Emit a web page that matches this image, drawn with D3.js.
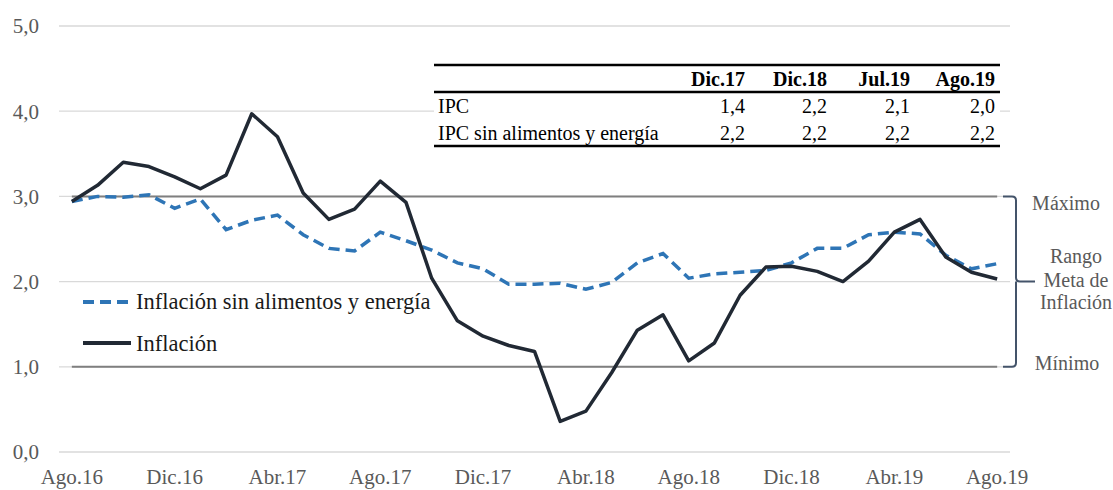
<!DOCTYPE html>
<html lang="es">
<head>
<meta charset="UTF-8">
<title>Inflación</title>
<style>
    body, html { margin: 0; padding: 0; background: #fff; }
    svg { display: block; font-family: "Liberation Serif", "DejaVu Serif", serif; }
</style>
</head>
<body>
<svg id="svg" width="1113" height="490"></svg>
<script src="https://d3js.org/d3.v7.min.js"></script>
<script>
    // months Ago.16 .. Ago.19
    const months = [
        'Ago.16', 'Sep.16', 'Oct.16', 'Nov.16', 'Dic.16', 'Ene.17', 'Feb.17', 'Mar.17', 'Abr.17',
        'May.17', 'Jun.17', 'Jul.17', 'Ago.17', 'Sep.17', 'Oct.17', 'Nov.17', 'Dic.17', 'Ene.18',
        'Feb.18', 'Mar.18', 'Abr.18', 'May.18', 'Jun.18', 'Jul.18', 'Ago.18', 'Sep.18', 'Oct.18',
        'Nov.18', 'Dic.18', 'Ene.19', 'Feb.19', 'Mar.19', 'Abr.19', 'May.19', 'Jun.19', 'Jul.19', 'Ago.19'
    ];
    const tickMonths = ['Ago.16', 'Dic.16', 'Abr.17', 'Ago.17', 'Dic.17', 'Abr.18', 'Ago.18', 'Dic.18', 'Abr.19', 'Ago.19'];

    const inflacion = [
        2.94, 3.13, 3.40, 3.35, 3.23, 3.09, 3.25, 3.97, 3.70,
        3.04, 2.73, 2.85, 3.18, 2.93, 2.04, 1.54, 1.36, 1.25,
        1.18, 0.36, 0.48, 0.93, 1.43, 1.61, 1.07, 1.28, 1.84,
        2.17, 2.18, 2.12, 2.00, 2.24, 2.58, 2.73, 2.29, 2.11, 2.03
    ];
    const subyacente = [
        2.94, 3.00, 2.99, 3.02, 2.86, 2.97, 2.61, 2.72, 2.78,
        2.55, 2.39, 2.36, 2.58, 2.48, 2.37, 2.22, 2.15, 1.97,
        1.97, 1.98, 1.91, 1.99, 2.22, 2.33, 2.04, 2.09, 2.11,
        2.13, 2.22, 2.39, 2.39, 2.55, 2.58, 2.56, 2.31, 2.15, 2.21
    ];

    const yTicks = [0, 1, 2, 3, 4, 5];
    const rangoMeta = [1, 3];

    // small table
    const tableCols = ['Dic.17', 'Dic.18', 'Jul.19', 'Ago.19'];
    const tableRows = ['IPC', 'IPC sin alimentos y energía'];
    const ipcValues = ['1,4', '2,2', '2,1', '2,0'];
    const ipcCoreValues = ['2,2', '2,2', '2,2', '2,2'];

    const svg = d3.select('#svg');
    const left = 59, right = 1010;

    const x = d3.scalePoint().domain(months).range([left, right]).padding(0.5);
    const y = d3.scaleLinear().domain([0, 5]).range([452, 26]);

    const fmt = d => d.toFixed(1).replace('.', ',');

    // gridlines
    svg.append('g')
        .selectAll('line')
        .data(yTicks)
        .join('line')
        .attr('x1', left).attr('x2', right)
        .attr('y1', d => y(d)).attr('y2', d => y(d))
        .attr('stroke', '#d9d9d9')
        .attr('stroke-width', 1.3);

    // y labels
    svg.append('g')
        .selectAll('text')
        .data(yTicks)
        .join('text')
        .attr('x', 39)
        .attr('y', d => y(d))
        .attr('dy', '0.35em')
        .attr('text-anchor', 'end')
        .attr('fill', '#595959')
        .style('font-size', '21px')
        .text(fmt);

    // x labels
    svg.append('g')
        .selectAll('text')
        .data(tickMonths)
        .join('text')
        .attr('x', d => x(d))
        .attr('y', 484)
        .attr('text-anchor', 'middle')
        .attr('fill', '#595959')
        .style('font-size', '21px')
        .text(d => d);

    // target range lines (max / min)
    svg.append('g')
        .selectAll('line')
        .data(rangoMeta)
        .join('line')
        .attr('x1', x(months[0])).attr('x2', x(months[months.length - 1]))
        .attr('y1', d => y(d)).attr('y2', d => y(d))
        .attr('stroke', '#7f7f7f')
        .attr('stroke-width', 2);

    // table background + content
    const tbl = svg.append('g');
    const tLeft = 434, tRight = 1000;
    const colRight = [745, 827, 910, 995];
    tbl.append('rect')
        .attr('x', tLeft).attr('y', 64)
        .attr('width', tRight - tLeft).attr('height', 83)
        .attr('fill', '#fff');
    [65, 92, 146].forEach(ly => {
        tbl.append('line')
            .attr('x1', tLeft).attr('x2', tRight)
            .attr('y1', ly).attr('y2', ly)
            .attr('stroke', '#000')
            .attr('stroke-width', 2.5);
    });
    tbl.selectAll('text.head')
        .data(tableCols)
        .join('text')
        .attr('class', 'head')
        .attr('x', (d, i) => colRight[i])
        .attr('y', 86)
        .attr('text-anchor', 'end')
        .style('font-size', '20px')
        .style('font-weight', 'bold')
        .text(d => d);
    const rowY = [113, 140];
    tbl.selectAll('text.rowlab')
        .data(tableRows)
        .join('text')
        .attr('class', 'rowlab')
        .attr('x', 438)
        .attr('y', (d, i) => rowY[i])
        .style('font-size', '20px')
        .text(d => d);
    [ipcValues, ipcCoreValues].forEach((vals, r) => {
        tbl.selectAll('text.v' + r)
            .data(vals)
            .join('text')
            .attr('class', 'v' + r)
            .attr('x', (d, i) => colRight[i])
            .attr('y', rowY[r])
            .attr('text-anchor', 'end')
            .style('font-size', '20px')
            .text(d => d);
    });

    // lines
    const line = d3.line()
        .x((d, i) => x(months[i]))
        .y(d => y(d));

    svg.append('path')
        .datum(subyacente)
        .attr('d', line)
        .attr('fill', 'none')
        .attr('stroke', '#2e75b6')
        .attr('stroke-width', 3.5)
        .attr('stroke-dasharray', '11,6');

    svg.append('path')
        .datum(inflacion)
        .attr('d', line)
        .attr('fill', 'none')
        .attr('stroke', '#212934')
        .attr('stroke-width', 3.5)
        .attr('stroke-linejoin', 'round');

    // legend
    const legend = svg.append('g');
    legend.append('line')
        .attr('x1', 83).attr('x2', 128).attr('y1', 302).attr('y2', 302)
        .attr('stroke', '#2e75b6').attr('stroke-width', 4)
        .attr('stroke-dasharray', '11,6');
    legend.append('text')
        .attr('x', 136).attr('y', 309)
        .attr('fill', '#1a1a1a')
        .style('font-size', '22.5px')
        .text('Inflación sin alimentos y energía');
    legend.append('line')
        .attr('x1', 83).attr('x2', 131).attr('y1', 343).attr('y2', 343)
        .attr('stroke', '#212934').attr('stroke-width', 4);
    legend.append('text')
        .attr('x', 136).attr('y', 351)
        .attr('fill', '#1a1a1a')
        .style('font-size', '22.5px')
        .text('Inflación');

    // bracket for target range
    const yTop = y(rangoMeta[1]), yBot = y(rangoMeta[0]), yMid = (yTop + yBot) / 2;
    svg.append('path')
        .attr('d', `M1003,${yTop} L1012,${yTop} Q1016,${yTop} 1016,${yTop + 4} L1016,${yMid - 4} Q1016,${yMid} 1020,${yMid} L1035,${yMid}
                    M1016,${yMid} Q1016,${yMid} 1016,${yMid + 4} L1016,${yBot - 4} Q1016,${yBot} 1012,${yBot} L1003,${yBot}`)
        .attr('fill', 'none')
        .attr('stroke', '#44546a')
        .attr('stroke-width', 2);

    const notes = [
        { t: 'Máximo', x: 1066, y: 210 },
        { t: 'Rango', x: 1076, y: 263 },
        { t: 'Meta de', x: 1076, y: 287 },
        { t: 'Inflación', x: 1076, y: 309 },
        { t: 'Mínimo', x: 1067, y: 370 }
    ];
    svg.append('g')
        .selectAll('text')
        .data(notes)
        .join('text')
        .attr('x', d => d.x)
        .attr('y', d => d.y)
        .attr('text-anchor', 'middle')
        .attr('fill', '#595959')
        .style('font-size', '20px')
        .text(d => d.t);
</script>
</body>
</html>
